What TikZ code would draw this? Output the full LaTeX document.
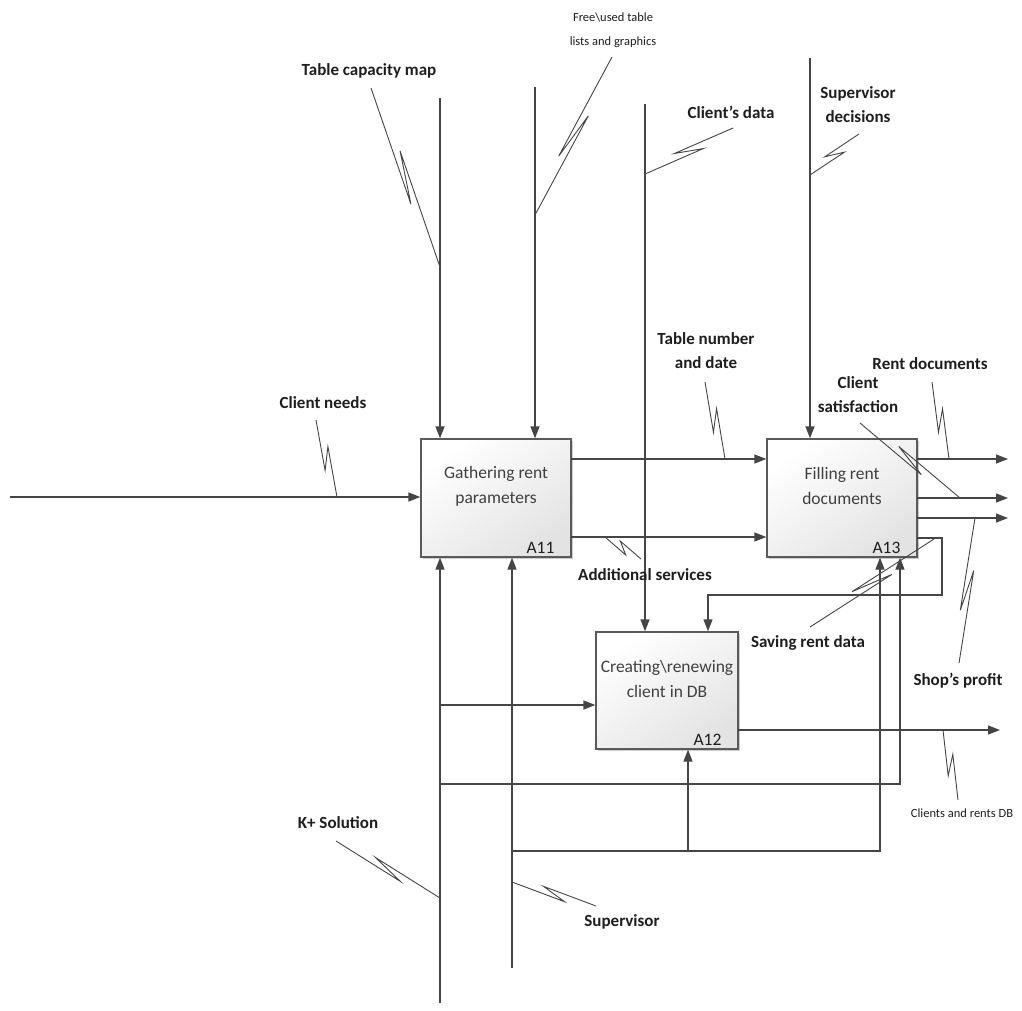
\documentclass[tikz,border=0pt]{standalone}
\usepackage{fontspec}
\setmainfont{Carlito}
\usetikzlibrary{arrows.meta,calc,shadows}
\definecolor{linegray}{HTML}{454545}
\definecolor{boxedge}{HTML}{5A5A5A}
\definecolor{boxfill}{HTML}{E3E3E3}
\definecolor{inkgray}{HTML}{1E1E1E}
% IDEF0 squiggle: a straight leader with a narrow zig-zag in its middle
\newcommand\leadline[3][4.5pt]{%
  \draw[leader] (#2) -- ($(#2)!0.64!(#3)!#1!-90:(#3)$)
                     -- ($(#2)!0.36!(#3)!#1!90:(#3)$) -- (#3);}
\begin{document}
\begin{tikzpicture}[x=1pt,y=-1pt,
  flow/.style={draw=linegray,line width=1.3pt,-{Triangle[length=12pt,width=9pt]}},
  leader/.style={draw=linegray,line width=0.9pt},
  act/.style={draw=boxedge,line width=1.3pt,inner sep=0pt,
    top color=white,bottom color=boxfill,shading angle=35,
    drop shadow={shadow xshift=2pt,shadow yshift=-2pt,fill=black,opacity=.2}},
  boxtext/.style={align=center,text=inkgray!85,font=\fontsize{17.5}{25}\selectfont},
  boxid/.style={anchor=south east,text=inkgray,font=\fontsize{17.5}{18}\selectfont,inner sep=0pt},
  lab/.style={align=center,text=inkgray,font=\bfseries\fontsize{17}{24}\selectfont,inner sep=1pt},
  small/.style={align=center,text=inkgray,font=\fontsize{12.5}{24}\selectfont,inner sep=1pt}]

\useasboundingbox[fill=white] (0,0) rectangle (1022,1010);

% activity boxes
\node[act,minimum width=150pt,minimum height=118pt] (a11) at (496,498) {};
\node[act,minimum width=150pt,minimum height=118pt] (a13) at (842,498) {};
\node[act,minimum width=142pt,minimum height=117pt] (a12) at (667,690.5) {};
\node[boxtext] (t11) at (496,486) {Gathering rent\\parameters};
\node[boxtext] (t13) at (842,486) {Filling rent\\documents};
\node[boxtext] (t12) at (667,679) {Creating\textbackslash renewing\\client in DB};
\node[boxid] (i11) at ($(a11.south east)+(-17,-4)$) {A11};
\node[boxid] (i13) at ($(a13.south east)+(-17,-4)$) {A13};
\node[boxid] (i12) at ($(a12.south east)+(-17,-4)$) {A12};

% free ends of the connectors
\coordinate (cnIn) at (10,497);
\coordinate (tcmTop) at (440,98);
\coordinate (fuTop) at (535,87);
\coordinate (cdTop) at (645,104);
\coordinate (sdTop) at (810,58);
\coordinate (kBot) at (440,1003);
\coordinate (svBot) at (512,968);
\coordinate (o1) at (571,459);
\coordinate (o2) at (571,537);
\coordinate (r1) at (917,459);
\coordinate (r2) at (917,498);
\coordinate (r3) at (917,518);
\coordinate (r1e) at (1008,459);
\coordinate (r2e) at (1008,498);
\coordinate (r3e) at (1008,518);
\coordinate (fbA) at (917,538);
\coordinate (fbB) at (942,538);
\coordinate (fbC) at (942,595);
\coordinate (fbD) at (708,595);
\coordinate (dbA) at (738,730);
\coordinate (dbE) at (1000,730);
\coordinate (brA) at (440,705);
\coordinate (brB) at (440,784);
\coordinate (brC) at (900,784);
\coordinate (brD) at (512,851);
\coordinate (brE) at (880,851);
\coordinate (brF) at (688,851);

% inputs and controls
\draw[flow] (cnIn) -- (cnIn -| a11.west);
\draw[flow] (tcmTop) -- (tcmTop |- a11.north);
\draw[flow] (fuTop) -- (fuTop |- a11.north);
\draw[flow] (cdTop) -- (cdTop |- a12.north);
\draw[flow] (sdTop) -- (sdTop |- a13.north);

% A11 to A13
\draw[flow] (o1) -- (o1 -| a13.west);
\draw[flow] (o2) -- (o2 -| a13.west);

% outputs of A13
\draw[flow] (r1) -- (r1e);
\draw[flow] (r2) -- (r2e);
\draw[flow] (r3) -- (r3e);

% feedback from A13 to A12
\draw[flow] (fbA) -- (fbB) -- (fbC) -- (fbD) -- (fbD |- a12.north);

% output of A12
\draw[flow] (dbA) -- (dbE);

% mechanisms
\draw[flow] (kBot) -- (kBot |- a11.south);
\draw[flow] (svBot) -- (svBot |- a11.south);
\draw[flow] (brA) -- (brA -| a12.west);
\draw[flow] (brB) -- (brC) -- (brC |- a13.south);
\draw[flow] (brD) -- (brE) -- (brE |- a13.south);
\draw[flow] (brF) -- (brF |- a12.south);

% labels
\node[lab] (lCN) at (323,403) {Client needs};
\node[lab] (lTCM) at (369,71) {Table capacity map};
\node[small] (lFU) at (613,30) {Free\textbackslash used table\\lists and graphics};
\node[lab] (lCD) at (731,112) {Client’s data};
\node[lab] (lSD) at (858,105) {Supervisor\\decisions};
\node[lab] (lTN) at (706,351) {Table number\\and date};
\node[lab] (lCS) at (858,395) {Client\\satisfaction};
\node[lab] (lRD) at (930,364) {Rent documents};
\node[lab] (lAS) at (645,575) {Additional services};
\node[lab] (lSR) at (808,643) {Saving rent data};
\node[lab] (lSP) at (958,681) {Shop’s profit};
\node[small] (lDB) at (962,813) {Clients and rents DB};
\node[lab] (lKS) at (338,823) {K+ Solution};
\node[lab] (lSV) at (622,922) {Supervisor};

% leader ends
\coordinate (qCN) at (337,497);
\coordinate (qTCM) at (440,267);
\coordinate (qFU) at (535,215);
\coordinate (qCD) at (645,174);
\coordinate (qSD) at (810,175);
\coordinate (qTN) at (725,459);
\coordinate (qCS) at (960,498);
\coordinate (qRD) at (949,459);
\coordinate (qAS) at (605,537);
\coordinate (qSR) at (934,539);
\coordinate (qSP) at (975,518);
\coordinate (qDB) at (943,730);
\coordinate (qKS) at (440,898);
\coordinate (qSV) at (512,882);

\coordinate (pCN) at (316,420);
\coordinate (pTCM) at (371,88);
\coordinate (pFU) at (612,57);
\coordinate (pCD) at (733,128);
\coordinate (pSD) at (859,134);
\coordinate (pTN) at (705,382);
\coordinate (pCS) at (860,423);
\coordinate (pRD) at (932,382);
\coordinate (pAS) at (641,559);
\coordinate (pSR) at (810,627);
\coordinate (pSP) at (959,663);
\coordinate (pDB) at (958,800);
\coordinate (pKS) at (336,841);
\coordinate (pSV) at (596,906);

\leadline{pCN}{qCN}
\leadline{pTCM}{qTCM}
\leadline{pFU}{qFU}
\leadline{pCD}{qCD}
\leadline{pSD}{qSD}
\leadline{pTN}{qTN}
\leadline{pCS}{qCS}
\leadline{pRD}{qRD}
\leadline{pAS}{qAS}
\leadline{pSR}{qSR}
\leadline{pSP}{qSP}
\leadline{pDB}{qDB}
\leadline{pKS}{qKS}
\leadline{pSV}{qSV}
\end{tikzpicture}
\end{document}
